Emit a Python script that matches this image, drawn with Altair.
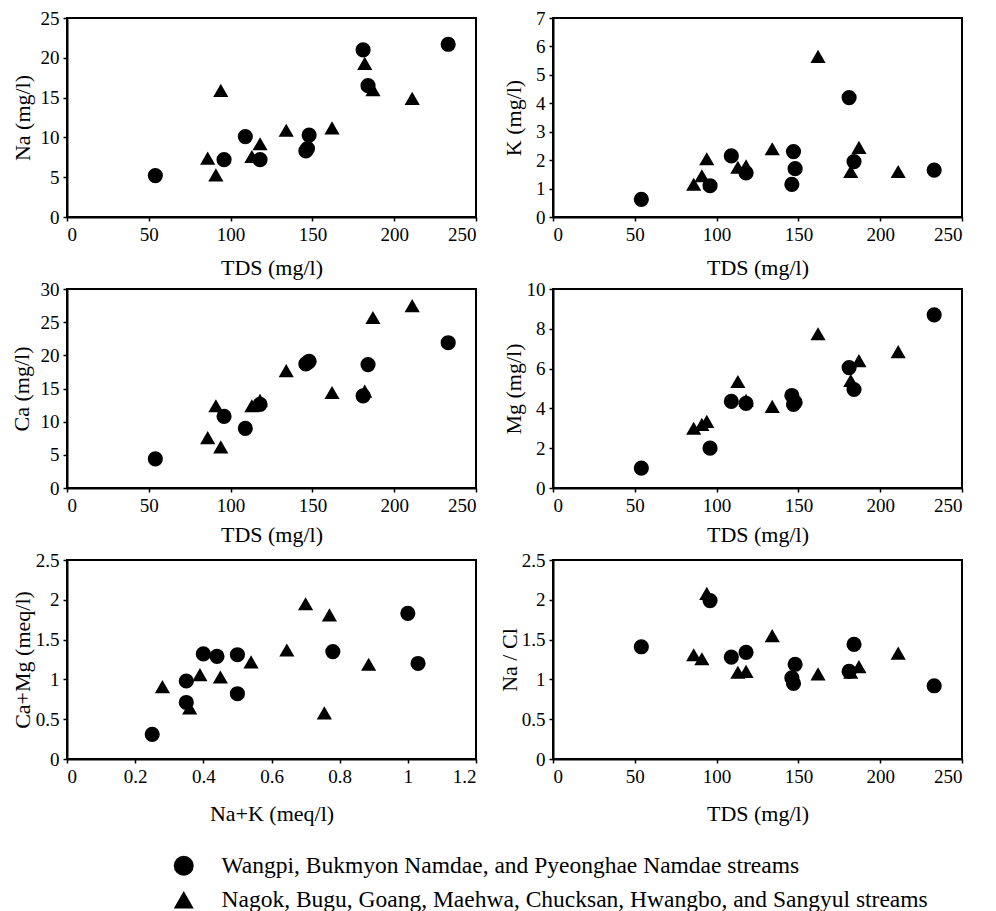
import altair as alt
import pandas as pd

G1 = "Wangpi, Bukmyon Namdae, and Pyeonghae Namdae streams"
G2 = "Nagok, Bugu, Goang, Maehwa, Chucksan, Hwangbo, and Sangyul streams"
FONT = "'Liberation Serif', 'Times New Roman', Times, serif"

# circles (group 1)
tds_c = [54, 96, 109, 118, 146, 147, 148, 181, 184, 233]
na_c = [5.2, 7.2, 10.1, 7.2, 8.3, 8.6, 10.3, 21.0, 16.5, 21.7]
k_c = [0.62, 1.1, 2.15, 1.55, 1.15, 2.3, 1.7, 4.2, 1.95, 1.65]
ca_c = [4.4, 10.8, 9.0, 12.6, 18.7, 18.9, 19.1, 13.9, 18.6, 21.9]
mg_c = [1.0, 2.0, 4.35, 4.25, 4.65, 4.2, 4.3, 6.05, 4.95, 8.7]
nacl_c = [1.41, 1.99, 1.28, 1.34, 1.02, 0.95, 1.19, 1.10, 1.44, 0.92]
nak_c = [0.25, 0.35, 0.35, 0.40, 0.44, 0.50, 0.50, 0.78, 1.00, 1.03]
camg_c = [0.31, 0.98, 0.71, 1.32, 1.29, 1.31, 0.82, 1.35, 1.83, 1.20]

# triangles (group 2)
tds_t = [86, 91, 94, 113, 118, 134, 162, 182, 187, 211]
na_t = [7.4, 5.3, 15.9, 7.6, 9.2, 10.9, 11.2, 19.3, 16.0, 14.9]
k_t = [1.15, 1.45, 2.05, 1.75, 1.8, 2.4, 5.65, 1.6, 2.45, 1.6]
ca_t = [7.6, 12.4, 6.2, 12.4, 13.2, 17.7, 14.4, 14.6, 25.7, 27.5]
mg_t = [3.0, 3.2, 3.35, 5.35, 4.4, 4.1, 7.75, 5.4, 6.4, 6.85]
nacl_t = [1.31, 1.26, 2.08, 1.09, 1.10, 1.55, 1.07, 1.09, 1.16, 1.33]
nak_t = [0.28, 0.36, 0.39, 0.45, 0.54, 0.645, 0.70, 0.77, 0.885, 0.755]
camg_t = [0.91, 0.64, 1.06, 1.03, 1.22, 1.37, 1.95, 1.81, 1.19, 0.58]

tds_ticks = [0, 50, 100, 150, 200, 250]
nak_ticks = [0, 0.2, 0.4, 0.6, 0.8, 1, 1.2]

W = 409
H = 199


def panel(xc, yc, xt, yt, xtitle, ytitle, xdom, xvals, ydom, yvals,
          ytx, xty, legend_spec):
    df = pd.DataFrame({
        "x": list(xc) + list(xt),
        "y": list(yc) + list(yt),
        "g": [G1] * len(xc) + [G2] * len(xt),
    })
    return alt.Chart(df).mark_point(
        filled=True, opacity=1, color="black", size=230
    ).encode(
        x=alt.X("x:Q", scale=alt.Scale(domain=xdom, nice=False),
                axis=alt.Axis(values=xvals, format="~r", title=xtitle,
                              titleX=W / 2, titleY=xty,
                              titleBaseline="middle")),
        y=alt.Y("y:Q", scale=alt.Scale(domain=ydom, nice=False),
                axis=alt.Axis(values=yvals, format="~r", title=ytitle,
                              titleX=ytx, titleY=H / 2, titleAngle=270,
                              titleBaseline="middle")),
        shape=alt.Shape("g:N", scale=alt.Scale(domain=[G1, G2],
                                               range=["circle", "triangle-up"]),
                        legend=legend_spec),
    ).properties(width=W, height=H)


leg = alt.Legend(
    title=None, orient="none", legendX=105, legendY=836, direction="vertical",
    labelFont=FONT, labelFontSize=23.5, labelColor="black", labelLimit=1000,
    labelOffset=26, rowPadding=9, symbolSize=400, symbolStrokeWidth=0,
    symbolFillColor="black",
)

p1 = panel(tds_c, na_c, tds_t, na_t, "TDS (mg/l)", "Na (mg/l)", [0, 250],
           tds_ticks, [0, 25], [0, 5, 10, 15, 20, 25], -45, 50, leg)
p2 = panel(tds_c, k_c, tds_t, k_t, "TDS (mg/l)", "K (mg/l)", [0, 250],
           tds_ticks, [0, 7], [0, 1, 2, 3, 4, 5, 6, 7], -40, 50, leg)
p3 = panel(tds_c, ca_c, tds_t, ca_t, "TDS (mg/l)", "Ca (mg/l)", [0, 250],
           tds_ticks, [0, 30], [0, 5, 10, 15, 20, 25, 30], -46, 46, leg)
p4 = panel(tds_c, mg_c, tds_t, mg_t, "TDS (mg/l)", "Mg (mg/l)", [0, 250],
           tds_ticks, [0, 10], [0, 2, 4, 6, 8, 10], -40, 46, leg)
p5 = panel(nak_c, camg_c, nak_t, camg_t, "Na+K (meq/l)", "Ca+Mg (meq/l)",
           [0, 1.2], nak_ticks, [0, 2.5], [0, 0.5, 1, 1.5, 2, 2.5], -45,
           54, leg)
p6 = panel(tds_c, nacl_c, tds_t, nacl_t, "TDS (mg/l)", "Na / Cl", [0, 250],
           tds_ticks, [0, 2.5], [0, 0.5, 1, 1.5, 2, 2.5], -44, 54, leg)

chart = alt.concat(
    p1, p2, p3, p4, p5, p6, columns=2,
    spacing={"row": 72, "column": 77}, bounds="flush",
).properties(
    padding={"left": 1, "top": 0, "right": 5, "bottom": 5}
).configure(
    font=FONT
).configure_view(
    stroke="black", strokeWidth=2
).configure_axis(
    grid=False, domainColor="black", domainWidth=2, tickColor="black",
    tickWidth=1.5, tickSize=4, labelFont=FONT, labelFontSize=19,
    labelColor="black", labelPadding=4, titleFont=FONT, titleFontSize=22,
    titleFontWeight="normal", titleColor="black",
).resolve_scale(shape="shared")

chart.save("out.html", embed_options={"renderer": "svg", "actions": False})
